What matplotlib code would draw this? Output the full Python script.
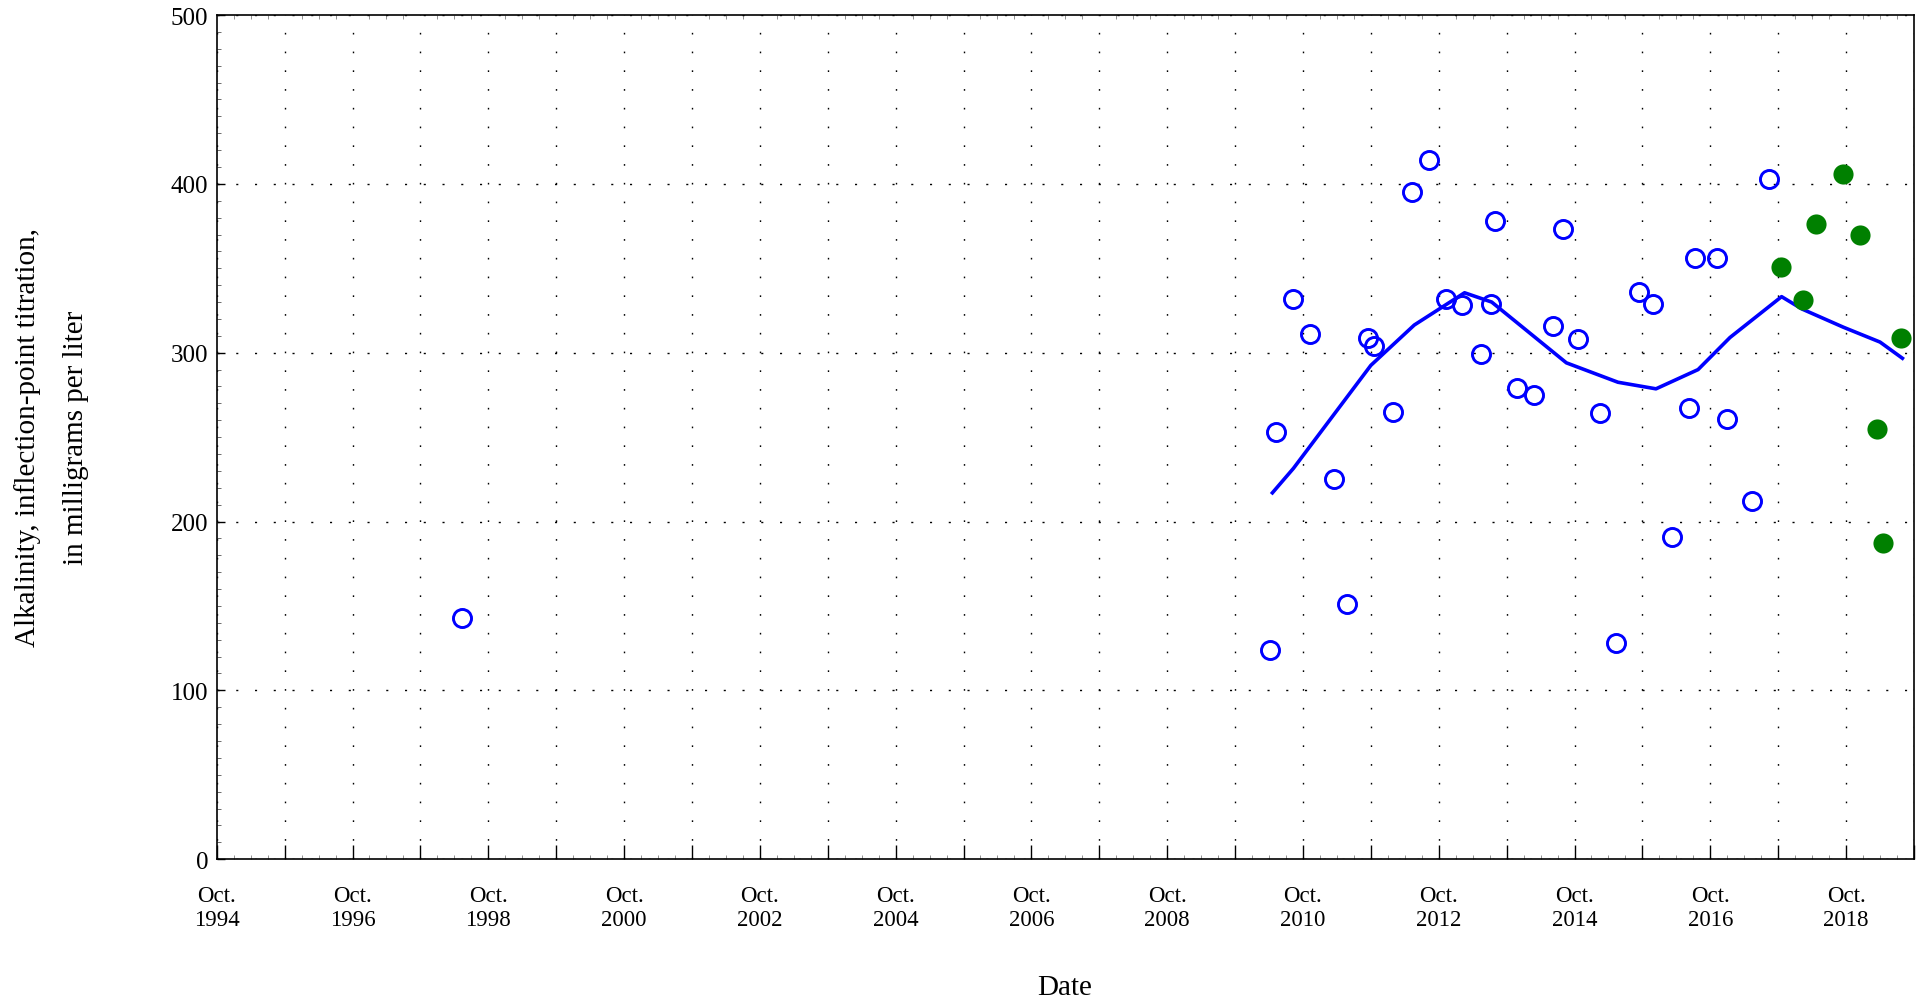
import matplotlib
matplotlib.use("Agg")
import matplotlib.pyplot as plt
from matplotlib.ticker import FixedLocator, MultipleLocator

plt.rcParams['font.family'] = ['Liberation Serif', 'DejaVu Serif']

# ---- data (decimal years, mg/L) ----
blue_dates = [1998.37, 2010.26, 2010.35, 2010.60, 2010.86, 2011.20, 2011.40, 2011.71, 2011.79,
              2012.08, 2012.35, 2012.61, 2012.86, 2013.10, 2013.37, 2013.52, 2013.58,
              2013.91, 2014.16, 2014.43, 2014.58, 2014.80, 2015.12, 2015.36, 2015.70,
              2015.91, 2016.19, 2016.44, 2016.53, 2016.85, 2017.00, 2017.36, 2017.62]
blue_values = [143, 124, 253, 332, 311, 225, 151, 309, 304,
               265, 395, 414, 332, 328, 299, 329, 378,
               279, 275, 316, 373, 308, 264, 128, 336,
               329, 191, 267, 356, 356, 261, 212, 403]

green_dates = [2017.79, 2018.11, 2018.30, 2018.71, 2018.96, 2019.20, 2019.30, 2019.56]
green_values = [351, 331, 376, 406, 370, 255, 187, 309]

trend_dates = [2010.30, 2010.61, 2011.75, 2012.39, 2013.13, 2013.53, 2014.63, 2015.39,
               2015.95, 2016.57, 2017.04, 2017.80, 2018.10, 2018.71, 2019.25, 2019.58]
trend_values = [217, 231.5, 292.5, 316.4, 335.5, 330, 294, 282.5,
                278.6, 290, 309, 333.2, 325.9, 315.1, 306.3, 296.7]

tick_years = list(range(1994, 2020))
label_years = [1994, 1996, 1998, 2000, 2002, 2004, 2006, 2008, 2010, 2012, 2014, 2016, 2018]

# ---- figure ----
fig = plt.figure(figsize=(19.23, 10.03), dpi=100)
ax = fig.add_axes([0.1127, 0.1424, 0.9953 - 0.1127, 0.984 - 0.1424])

ax.plot(trend_dates, trend_values, color='blue', lw=2.6, zorder=3)
ax.plot(blue_dates, blue_values, 'o', ms=13.0, mfc='none', mec='blue', mew=2.1, zorder=4)
ax.plot(green_dates, green_values, 'o', ms=14.5, mfc='green', mec='green', mew=0, zorder=4)

ax.set_xlim(1994.75, 2019.75)
ax.set_ylim(0, 500)

major_x = [y + 0.75 for y in tick_years]
ax.xaxis.set_major_locator(FixedLocator(major_x))
ax.set_xticklabels([f"Oct.\n{y}" if y in label_years else "" for y in tick_years])
ax.xaxis.set_minor_locator(MultipleLocator(0.25))
ax.yaxis.set_major_locator(MultipleLocator(100))
ax.yaxis.set_minor_locator(MultipleLocator(10))

ax.tick_params(axis='x', which='major', direction='in', length=10, width=1, pad=18.5,
               labelsize=16.5, top=False)
ax.tick_params(axis='x', which='minor', direction='in', length=3, width=0.5,
               color='#666666', top=True)
ax.tick_params(axis='y', which='major', direction='in', length=6, width=1, pad=6,
               labelsize=18, right=False)
ax.tick_params(axis='y', which='minor', direction='in', length=3, width=0.6,
               color='#555555', right=False)

for s in ax.spines.values():
    s.set_linewidth(1.2)

# grids
ax.grid(True, axis='x', which='major', color='black', lw=1.0, linestyle=(0, (1.2, 12.3)))
ax.grid(True, axis='y', which='major', color='black', lw=1.0, linestyle=(0, (1.5, 12.0)))
ax.set_axisbelow(True)

fig.text(52 / 1923, 1 - 438 / 1003,
         "Alkalinity, inflection-point titration,\nin milligrams per liter",
         rotation=90, ha='center', va='center', multialignment='center',
         fontsize=21, linespacing=2.1)
fig.text(1065 / 1923, 1 - 988 / 1003, "Date", ha='center', va='center', fontsize=21)

fig.savefig("out.png", dpi=100)
